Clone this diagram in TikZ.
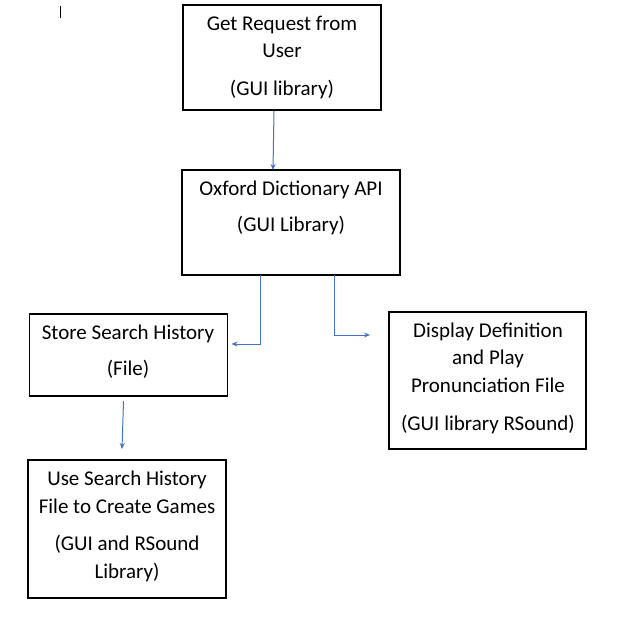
\documentclass[tikz,border=0pt]{standalone}
\usepackage{fontspec}
\setmainfont{Carlito}
\usetikzlibrary{arrows.meta,calc}
\definecolor{arrblue}{HTML}{4472C4}
\begin{document}
\begin{tikzpicture}[x=1pt,y=-1pt,
  box/.style={draw=black,line width=1.1pt,inner sep=0pt,outer sep=0pt},
  txt/.style={anchor=base,inner sep=0pt,font=\fontsize{21}{25}\selectfont},
  arr/.style={draw=arrblue,line width=1pt,-{Stealth[length=6pt,width=5pt]}}]
\useasboundingbox (0,0) rectangle (621,619);
% boxes
\node[box,minimum width=198,minimum height=105] (req) at (282,57.5) {};
\node[box,minimum width=218,minimum height=105] (api) at (291,222.5) {};
\node[box,minimum width=198,minimum height=82] (store) at (128.5,355) {};
\node[box,minimum width=197,minimum height=137] (disp) at (487.5,380.5) {};
\node[box,minimum width=198,minimum height=138] (use) at (127,529) {};
% texts
\node[txt] (req1) at (282,30) {Get Request from};
\node[txt] (req2) at (282,57) {User};
\node[txt] (req3) at (282,95) {(GUI library)};
\node[txt] (api1) at (291,195) {Oxford Dictionary API};
\node[txt] (api2) at (291,231) {(GUI Library)};
\node[txt] (st1) at (128,339) {Store Search History};
\node[txt] (st2) at (128,375) {(File)};
\node[txt] (d1) at (488,337) {Display Definition};
\node[txt] (d2) at (488,364) {and Play};
\node[txt] (d3) at (488,392) {Pronunciation File};
\node[txt] (d4) at (488,430) {(GUI library RSound)};
\node[txt] (u1) at (127,485) {Use Search History};
\node[txt] (u2) at (127,513) {File to Create Games};
\node[txt] (u3) at (127,550) {(GUI and RSound};
\node[txt] (u4) at (127,578) {Library)};
% connectors
\draw[arr] ($(req.south west)+(91,1)$) -- ($(api.north west)+(91,0)$);
\draw[arr] ($(api.south west)+(78,0)$) |- ($(store.east)+(4,-11)$);
\draw[arr] ($(api.south west)+(152,0)$) |- ($(disp.west)+(-19,-45.5)$);
\draw[arr] ($(store.south west)+(94,5)$) -- ($(use.north west)+(94,-11)$);
% text cursor mark
\coordinate (cur1) at (60,6);
\coordinate (cur2) at (60,18);
\draw[line width=0.8pt] (cur1) -- (cur2);
\end{tikzpicture}
\end{document}
